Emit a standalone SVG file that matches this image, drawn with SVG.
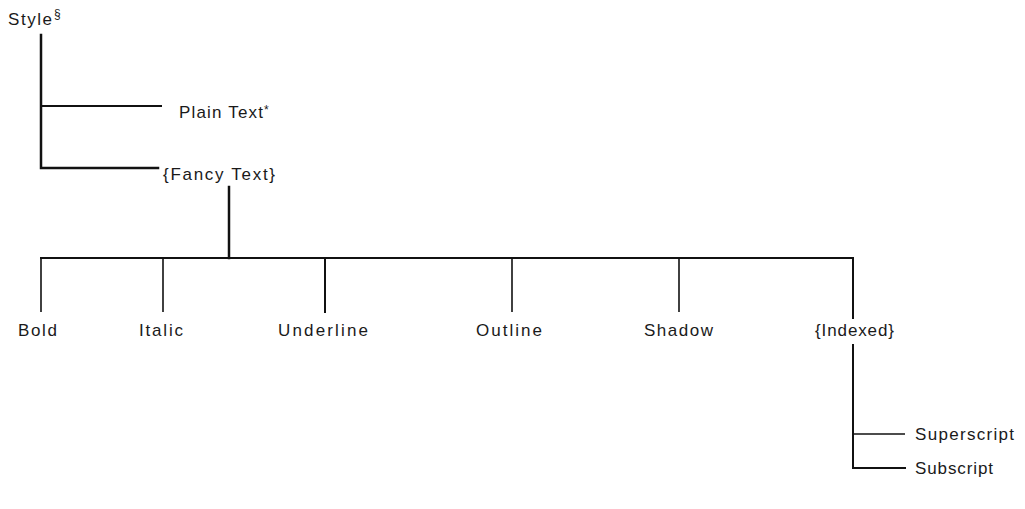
<svg xmlns="http://www.w3.org/2000/svg" width="1025" height="509" viewBox="0 0 1025 509">
  <style>
    .lbl { font-family: "Liberation Sans", Arial, sans-serif; font-size: 17px; fill: #1a1a1a; }
    .sup { font-family: "Liberation Sans", Arial, sans-serif; font-size: 12px; fill: #1a1a1a; }
    .ln { stroke: #111; stroke-width: 2; fill: none; stroke-linecap: square; }
    .trunk { stroke: #111; stroke-width: 2.5; fill: none; stroke-linecap: square; }
    .thin { stroke: #111; stroke-width: 1.6; fill: none; }
  </style>
  <rect width="1025" height="509" fill="#fff"/>

  <g id="connectors">
    <!-- Style trunk and its two branches -->
    <path class="trunk" d="M41 35 V168 H158"/>
    <path class="ln" d="M41 106 H161"/>
    <!-- Fancy Text down to the bar -->
    <path class="trunk" d="M229 187 V258"/>
    <!-- horizontal bar -->
    <path class="ln" d="M41 258 H853"/>
    <!-- drops to each fancy style -->
    <path class="thin" d="M41 258 V312"/>
    <path class="thin" d="M163 258 V312"/>
    <path class="ln" d="M325 258 V312"/>
    <path class="thin" d="M512 258 V312"/>
    <path class="thin" d="M679 258 V312"/>
    <path class="ln" d="M853 258 V318"/>
    <!-- Indexed trunk and branches -->
    <path class="ln" d="M853 345 V468 H905"/>
    <path class="thin" d="M853 434 H905"/>
  </g>

  <g id="node-style">
    <text class="lbl" x="8" y="25" textLength="44" lengthAdjust="spacing">Style</text>
    <text class="sup" x="54" y="18">§</text>
  </g>
  <g id="node-plain-text">
    <text class="lbl" x="179" y="118" textLength="84" lengthAdjust="spacing">Plain Text</text>
    <text class="sup" x="264" y="114">*</text>
  </g>
  <g id="node-fancy-text">
    <text class="lbl" x="163" y="180" textLength="112" lengthAdjust="spacing">{Fancy Text}</text>
  </g>
  <g id="node-bold">
    <text class="lbl" x="18" y="336" textLength="39" lengthAdjust="spacing">Bold</text>
  </g>
  <g id="node-italic">
    <text class="lbl" x="139" y="336" textLength="44" lengthAdjust="spacing">Italic</text>
  </g>
  <g id="node-underline">
    <text class="lbl" x="278" y="336" textLength="90" lengthAdjust="spacing">Underline</text>
  </g>
  <g id="node-outline">
    <text class="lbl" x="476" y="336" textLength="66" lengthAdjust="spacing">Outline</text>
  </g>
  <g id="node-shadow">
    <text class="lbl" x="644" y="336" textLength="69" lengthAdjust="spacing">Shadow</text>
  </g>
  <g id="node-indexed">
    <text class="lbl" x="815" y="336" textLength="79" lengthAdjust="spacing">{Indexed}</text>
  </g>
  <g id="node-superscript">
    <text class="lbl" x="915" y="440" textLength="99" lengthAdjust="spacing">Superscript</text>
  </g>
  <g id="node-subscript">
    <text class="lbl" x="915" y="474" textLength="78" lengthAdjust="spacing">Subscript</text>
  </g>
</svg>
